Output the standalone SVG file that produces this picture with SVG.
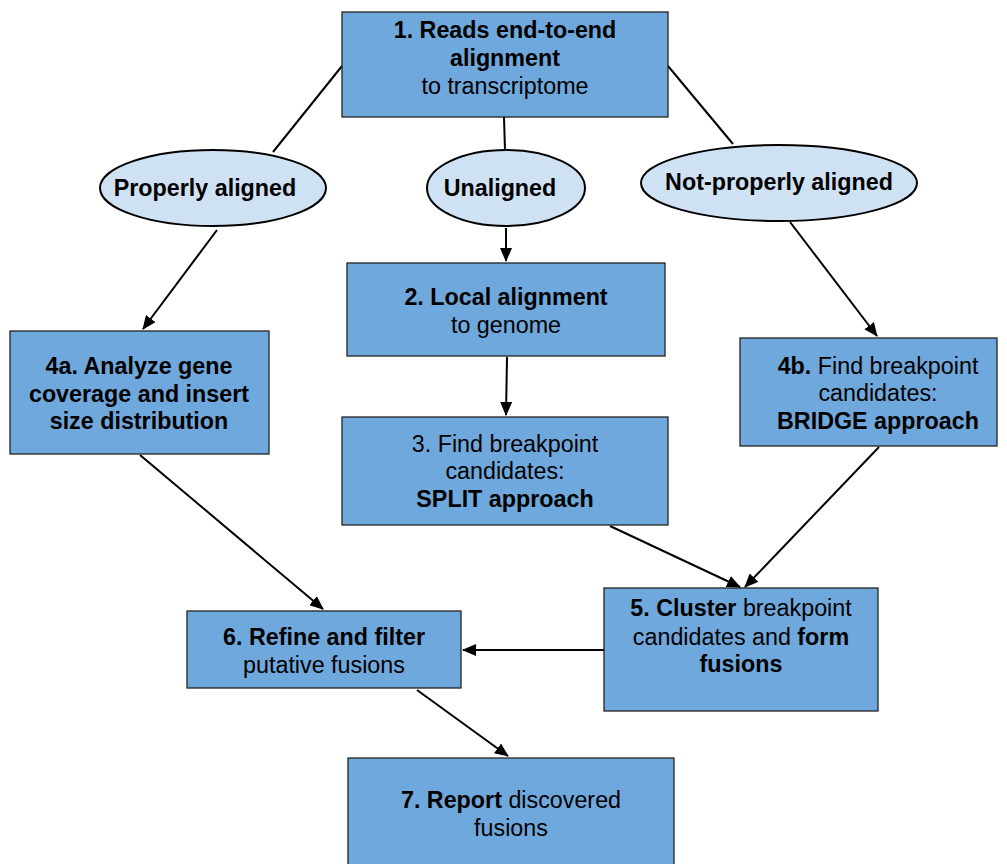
<svg xmlns="http://www.w3.org/2000/svg" width="1007" height="864" viewBox="0 0 1007 864">
<style>
.box{fill:#6fa8dc;stroke:#222;stroke-width:1.3}
.ell{fill:#cfe2f3;stroke:#000;stroke-width:2}
text{font-family:"Liberation Sans",Arial,sans-serif;font-size:23.3px;fill:#000;text-anchor:middle}
.b{font-weight:bold}
.c line{stroke:#000;stroke-width:2}
</style>
<defs>
<marker id="ah" viewBox="0 0 14 12" refX="13" refY="6" markerWidth="14" markerHeight="12" markerUnits="userSpaceOnUse" orient="auto">
<path d="M0,0 L14,6 L0,12 z" fill="#000"/>
</marker>
</defs>
<rect width="1007" height="864" fill="#fff"/>
<g class="c">
<line x1="342" y1="66" x2="273" y2="152"/>
<line x1="504" y1="117" x2="505" y2="151"/>
<line x1="668" y1="66" x2="733" y2="144"/>
<line x1="217" y1="230" x2="143" y2="329" marker-end="url(#ah)"/>
<line x1="506" y1="228" x2="506" y2="261" marker-end="url(#ah)"/>
<line x1="790" y1="222" x2="877" y2="336" marker-end="url(#ah)"/>
<line x1="507" y1="357" x2="506" y2="415" marker-end="url(#ah)"/>
<line x1="140" y1="455" x2="323" y2="609" marker-end="url(#ah)"/>
<line x1="610" y1="526" x2="740" y2="587" marker-end="url(#ah)"/>
<line x1="879" y1="447" x2="745" y2="587" marker-end="url(#ah)"/>
<line x1="604" y1="650" x2="463" y2="650" marker-end="url(#ah)"/>
<line x1="417" y1="690" x2="508" y2="756" marker-end="url(#ah)"/>
</g>
<g id="n1"><rect class="box" x="342" y="12" width="326" height="105"/>
<text x="505" y="38" class="b">1. Reads end-to-end</text>
<text x="505" y="66" class="b">alignment</text>
<text x="505" y="94">to transcriptome</text></g>
<g id="e1"><ellipse class="ell" cx="213" cy="188" rx="113" ry="38"/>
<text x="205" y="196" class="b">Properly aligned</text></g>
<g id="e2"><ellipse class="ell" cx="506" cy="188" rx="79" ry="38"/>
<text x="500" y="196" class="b">Unaligned</text></g>
<g id="e3"><ellipse class="ell" cx="779" cy="183" rx="138" ry="38"/>
<text x="779" y="190" class="b">Not-properly aligned</text></g>
<g id="n2"><rect class="box" x="347" y="263" width="318" height="93"/>
<text x="506" y="305" class="b">2. Local alignment</text>
<text x="506" y="333">to genome</text></g>
<g id="n4a"><rect class="box" x="10" y="331" width="259" height="123"/>
<text x="139" y="374" class="b">4a. Analyze gene</text>
<text x="139" y="402" class="b">coverage and insert</text>
<text x="139" y="429" class="b">size distribution</text></g>
<g id="n4b"><rect class="box" x="740" y="338" width="257" height="108"/>
<text x="878" y="374"><tspan class="b">4b.</tspan> Find breakpoint</text>
<text x="878" y="401">candidates:</text>
<text x="878" y="429" class="b">BRIDGE approach</text></g>
<g id="n3"><rect class="box" x="342" y="417" width="326" height="108"/>
<text x="505" y="452">3. Find breakpoint</text>
<text x="505" y="479">candidates:</text>
<text x="505" y="507" class="b">SPLIT approach</text></g>
<g id="n5"><rect class="box" x="604" y="588" width="274" height="123"/>
<text x="741" y="616"><tspan class="b">5. Cluster</tspan> breakpoint</text>
<text x="741" y="645">candidates and <tspan class="b">form</tspan></text>
<text x="741" y="672" class="b">fusions</text></g>
<g id="n6"><rect class="box" x="187" y="611" width="274" height="77"/>
<text x="324" y="645" class="b">6. Refine and filter</text>
<text x="324" y="673">putative fusions</text></g>
<g id="n7"><rect class="box" x="348" y="758" width="326" height="112"/>
<text x="511" y="808"><tspan class="b">7. Report</tspan> discovered</text>
<text x="511" y="836">fusions</text></g>
</svg>
